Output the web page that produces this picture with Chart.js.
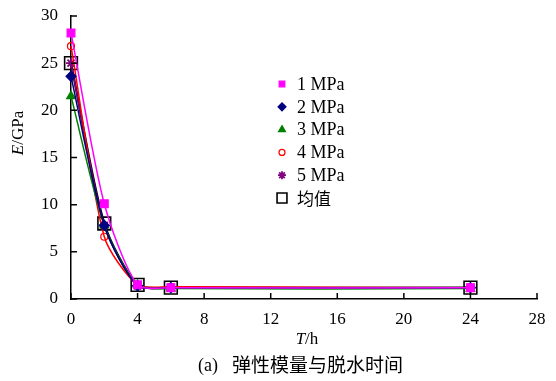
<!DOCTYPE html>
<html>
<head>
<meta charset="utf-8">
<script src="https://cdn.jsdelivr.net/npm/chart.js@4/dist/chart.umd.min.js"></script>
<style>
  html, body { margin: 0; padding: 0; background: #fff; }
  #wrap { width: 556px; height: 381px; position: relative; }
</style>
</head>
<body>
<div id="wrap"><canvas id="c"></canvas></div>
<script>
// dehydration time (h)
const hours = [0, 2, 4, 6, 24];
const mpa1 = [28.2, 10.1, 1.5, 1.2, 1.2];
const mpa2 = [23.6, 7.8, 1.4, 1.2, 1.2];
const mpa3 = [21.5, 7.8, 1.5, 1.1, 1.1];
const mpa4 = [26.8, 6.6, 1.5, 1.3, 1.2];
const mpa5 = [25.0, 7.8, 1.4, 1.2, 1.2];
const meanE = [25.0, 8.0, 1.5, 1.2, 1.2];
const seriesLabels = ['1 MPa', '2 MPa', '3 MPa', '4 MPa', '5 MPa', '均值'];
const xTicks = [0, 4, 8, 12, 16, 20, 24, 28];
const yTicks = [0, 5, 10, 15, 20, 25, 30];

const serif = '"Liberation Serif", "Times New Roman", serif';
const cjk = '"Noto Sans CJK SC", sans-serif';

function pts(ys) { return hours.map((h, i) => ({ x: h, y: ys[i] })); }

function ds(label, ys, color, style, opts) {
  return Object.assign({
    label, data: pts(ys), borderColor: color, backgroundColor: color,
    pointStyle: style, pointRadius: 4, pointBorderWidth: 1.2,
    pointBackgroundColor: color, pointBorderColor: color,
    borderWidth: 1.5, tension: 0.25, fill: false, clip: false
  }, opts || {});
}

const datasets = [
  ds(seriesLabels[0], mpa1, '#ff00ff', 'rect', { pointRadius: 5.5 }),
  ds(seriesLabels[1], mpa2, '#000080', 'rectRot', { pointRadius: 5 }),
  ds(seriesLabels[2], mpa3, '#008000', 'triangle', { pointRadius: 5 }),
  ds(seriesLabels[3], mpa4, '#ff0000', 'circle', { pointBackgroundColor: 'rgba(0,0,0,0)', pointRadius: 3.5 }),
  ds(seriesLabels[4], mpa5, '#800080', 'star', { pointRadius: 5, pointBorderWidth: 1.8 }),
  ds(seriesLabels[5], meanE, '#000000', 'rect', { pointBackgroundColor: 'rgba(0,0,0,0)', pointRadius: 9, pointBorderWidth: 1.6, borderWidth: 2.2 })
];

const decor = {
  id: 'decor',
  afterDraw(chart) {
    const ctx = chart.ctx;
    const xs = chart.scales.x, ys = chart.scales.y;
    const area = chart.chartArea;
    ctx.save();
    ctx.strokeStyle = '#000';
    ctx.lineWidth = 1.5;
    // inward ticks
    ctx.beginPath();
    xTicks.forEach(v => { const px = xs.getPixelForValue(v); ctx.moveTo(px, area.bottom); ctx.lineTo(px, area.bottom - 6); });
    yTicks.forEach(v => { const py = ys.getPixelForValue(v); ctx.moveTo(area.left, py); ctx.lineTo(area.left + 6, py); });
    ctx.stroke();

    // axis titles
    ctx.fillStyle = '#000';
    ctx.textBaseline = 'middle';
    ctx.textAlign = 'left';
    // x title T/h
    ctx.font = 'italic 17px ' + serif;
    const wT = ctx.measureText('T').width;
    ctx.font = '17px ' + serif;
    const wH = ctx.measureText('/h').width;
    let sx = 307 - (wT + wH) / 2;
    ctx.font = 'italic 17px ' + serif; ctx.fillText('T', sx, 340);
    ctx.font = '17px ' + serif; ctx.fillText('/h', sx + wT, 340);
    // y title E/GPa
    ctx.save();
    ctx.translate(19, 133);
    ctx.rotate(-Math.PI / 2);
    ctx.font = 'italic 17px ' + serif;
    const wE = ctx.measureText('E').width;
    ctx.font = '17px ' + serif;
    const wG = ctx.measureText('/GPa').width;
    let s0 = -(wE + wG) / 2;
    ctx.font = 'italic 17px ' + serif; ctx.fillText('E', s0, 0);
    ctx.font = '17px ' + serif; ctx.fillText('/GPa', s0 + wE, 0);
    ctx.restore();
    // caption
    ctx.font = '18px ' + serif; ctx.fillText('(a)', 198, 366);
    ctx.font = '19px ' + cjk; ctx.fillText('弹性模量与脱水时间', 232, 365);

    // legend
    const lx = 282, ly0 = 84, dy = 22.8;
    chart.data.datasets.forEach((d, i) => {
      const y = ly0 + dy * i;
      ctx.fillStyle = d.pointBackgroundColor;
      ctx.strokeStyle = d.pointBorderColor;
      ctx.lineWidth = d.pointBorderWidth;
      Chart.helpers.drawPoint(ctx, {
        pointStyle: d.pointStyle,
        radius: i === 5 ? 7 : (i === 3 ? 3 : 4),
        borderWidth: d.pointBorderWidth,
        rotation: 0
      }, lx, y);
      ctx.fillStyle = '#000';
      if (i === 5) { ctx.font = '17px ' + cjk; ctx.fillText(d.label, 297, y + 1); }
      else { ctx.font = '18px ' + serif; ctx.fillText(d.label, 297, y + 1); }
    });
    ctx.restore();
  }
};

new Chart(document.getElementById('c'), {
  type: 'line',
  data: { datasets },
  options: {
    responsive: true, maintainAspectRatio: false, animation: false,
    layout: { padding: { left: 0, right: 19, top: 16, bottom: 0 } },
    plugins: { legend: { display: false }, tooltip: { enabled: false } },
    scales: {
      x: {
        type: 'linear', min: 0, max: 28,
        afterBuildTicks: s => { s.ticks = xTicks.map(v => ({ value: v })); },
        afterFit: s => { s.height = 82; },
        grid: { display: false },
        border: { display: true, color: '#000', width: 1.5 },
        ticks: { color: '#000', font: { family: serif, size: 17 }, padding: 2, maxRotation: 0 }
      },
      y: {
        min: 0, max: 30,
        afterBuildTicks: s => { s.ticks = yTicks.map(v => ({ value: v })); },
        afterFit: s => { s.width = 71; },
        grid: { display: false },
        border: { display: true, color: '#000', width: 1.5 },
        ticks: { color: '#000', font: { family: serif, size: 17 }, padding: 5 }
      }
    }
  },
  plugins: [decor]
});
</script>
</body>
</html>
